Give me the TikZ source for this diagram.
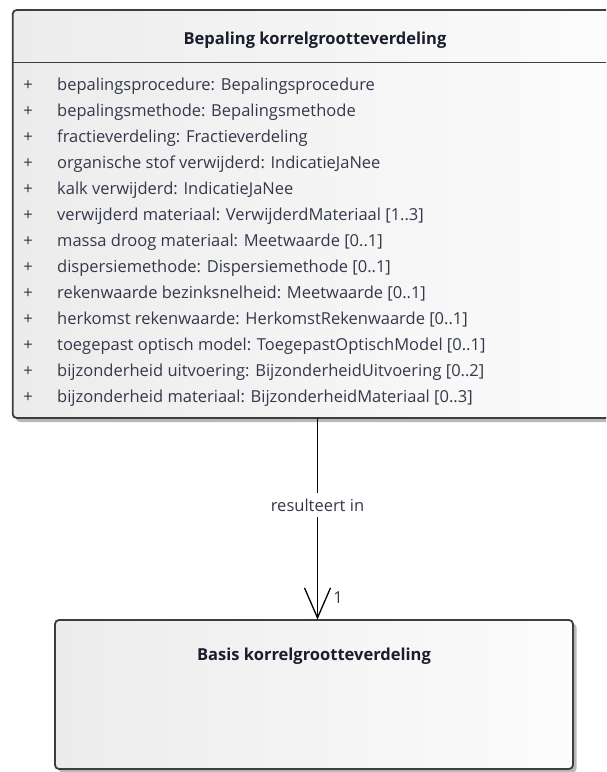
\documentclass[tikz,border=0pt]{standalone}
\usepackage{fontspec}
\setmainfont{Open Sans}
\usetikzlibrary{arrows.meta}

\definecolor{frame}{HTML}{3E3E3E}
\definecolor{attrtext}{HTML}{34384A}
\definecolor{titletext}{HTML}{1A1E2C}
\definecolor{fillL}{HTML}{ECECEC}
\definecolor{fillR}{HTML}{FCFCFC}
\definecolor{shade}{HTML}{B8B8B8}

\newcommand{\diagfont}{\fontsize{16.5}{19}\selectfont}

\tikzset{
  classbox/.style={draw=frame, line width=1.8pt, rounded corners=4pt,
    left color=fillL, right color=fillR, shading angle=90},
  boxshadow/.style={fill=shade, rounded corners=4pt},
  classtitle/.style={font=\diagfont\bfseries, text=titletext, inner sep=0pt},
  attrline/.style={font=\diagfont, text=attrtext, inner sep=0pt, anchor=base west},
  visib/.style={font=\diagfont, text=attrtext, inner sep=0pt, anchor=base},
  assoc/.style={draw=black, line width=1.3pt},
  assoclabel/.style={font=\diagfont, text=attrtext, fill=white, inner xsep=1pt, inner ysep=6pt},
  multlabel/.style={font=\diagfont, text=attrtext, inner sep=0pt}
}

\begin{document}
\begin{tikzpicture}[x=1pt, y=-1pt]
  \clip (0,0) rectangle (606,772);
  \fill[white] (0,0) rectangle (606,772);

  % Upper class: Bepaling korrelgrootteverdeling
  \fill[boxshadow] (16,14) rectangle (622,422);
  \path[classbox] (12.7,10) rectangle (618,418);
  \node[classtitle] (bkvTitle) at (315,40) {Bepaling korrelgrootteverdeling};
  \draw[draw=frame, line width=1.5pt] (12.7,62.5) -- (618,62.5);

  \foreach [count=\i] \txt in {
    {bepalingsprocedure: Bepalingsprocedure},
    {bepalingsmethode: Bepalingsmethode},
    {fractieverdeling: Fractieverdeling},
    {organische stof verwijderd: IndicatieJaNee},
    {kalk verwijderd: IndicatieJaNee},
    {verwijderd materiaal: VerwijderdMateriaal [1..3]},
    {massa droog materiaal: Meetwaarde [0..1]},
    {dispersiemethode: Dispersiemethode [0..1]},
    {rekenwaarde bezinksnelheid: Meetwaarde [0..1]},
    {herkomst rekenwaarde: HerkomstRekenwaarde [0..1]},
    {toegepast optisch model: ToegepastOptischModel [0..1]},
    {bijzonderheid uitvoering: BijzonderheidUitvoering [0..2]},
    {bijzonderheid materiaal: BijzonderheidMateriaal [0..3]}}
  {
    \pgfmathsetmacro{\rowy}{85+26*(\i-1)+5.5}
    \node[visib] (vis\i) at (28,\rowy) {+};
    \node[attrline] (attr\i) at (57,\rowy) {\txt};
  }
  \coordinate (upperBottom) at (317.5,418);

  % Lower class: Basis korrelgrootteverdeling
  \fill[boxshadow] (58.5,623.5) rectangle (576.5,772.5);
  \path[classbox] (55,620) rectangle (573,769);
  \node[classtitle] (basisTitle) at (314,656) {Basis korrelgrootteverdeling};
  \coordinate (lowerTop) at (317.5,619.5);

  % Association
  \draw[assoc, -{Straight Barb[length=30pt, width=26pt, line width=1.3pt]}]
    (upperBottom) -- (lowerTop);
  \node[assoclabel] (assocName) at (317.5,505) {resulteert in};
  \node[multlabel] (multTarget) at (338,598) {1};
\end{tikzpicture}
\end{document}
